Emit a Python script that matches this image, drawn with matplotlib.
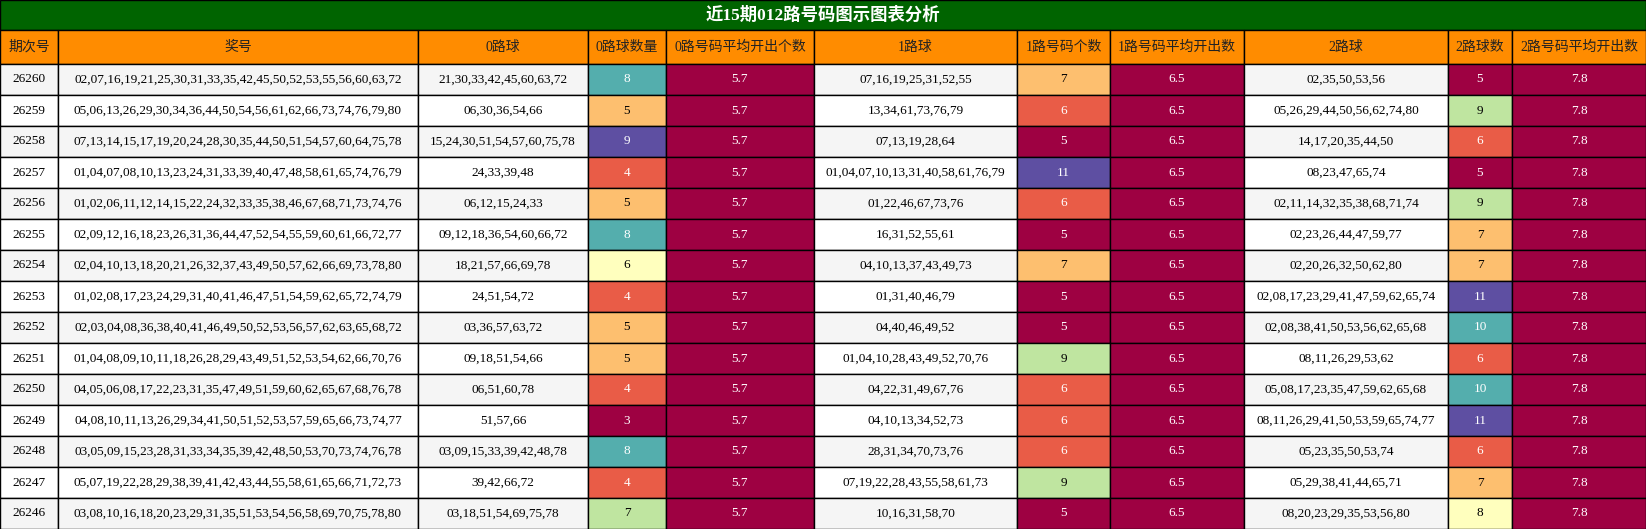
import matplotlib
matplotlib.use("Agg")
import matplotlib.pyplot as plt
from matplotlib.patches import Rectangle
from matplotlib import colormaps

title = "近15期012路号码图示图表分析"
headers = ["期次号", "奖号", "0路球", "0路球数量", "0路号码平均开出个数", "1路球", "1路号码个数",
           "1路号码平均开出数", "2路球", "2路球数", "2路号码平均开出数"]
periods = ["26260","26259","26258","26257","26256","26255","26254","26253","26252","26251","26250","26249","26248","26247","26246"]
draws = [
"02,07,16,19,21,25,30,31,33,35,42,45,50,52,53,55,56,60,63,72",
"05,06,13,26,29,30,34,36,44,50,54,56,61,62,66,73,74,76,79,80",
"07,13,14,15,17,19,20,24,28,30,35,44,50,51,54,57,60,64,75,78",
"01,04,07,08,10,13,23,24,31,33,39,40,47,48,58,61,65,74,76,79",
"01,02,06,11,12,14,15,22,24,32,33,35,38,46,67,68,71,73,74,76",
"02,09,12,16,18,23,26,31,36,44,47,52,54,55,59,60,61,66,72,77",
"02,04,10,13,18,20,21,26,32,37,43,49,50,57,62,66,69,73,78,80",
"01,02,08,17,23,24,29,31,40,41,46,47,51,54,59,62,65,72,74,79",
"02,03,04,08,36,38,40,41,46,49,50,52,53,56,57,62,63,65,68,72",
"01,04,08,09,10,11,18,26,28,29,43,49,51,52,53,54,62,66,70,76",
"04,05,06,08,17,22,23,31,35,47,49,51,59,60,62,65,67,68,76,78",
"04,08,10,11,13,26,29,34,41,50,51,52,53,57,59,65,66,73,74,77",
"03,05,09,15,23,28,31,33,34,35,39,42,48,50,53,70,73,74,76,78",
"05,07,19,22,28,29,38,39,41,42,43,44,55,58,61,65,66,71,72,73",
"03,08,10,16,18,20,23,29,31,35,51,53,54,56,58,69,70,75,78,80"]
road0 = ["21,30,33,42,45,60,63,72","06,30,36,54,66","15,24,30,51,54,57,60,75,78","24,33,39,48",
         "06,12,15,24,33","09,12,18,36,54,60,66,72","18,21,57,66,69,78","24,51,54,72","03,36,57,63,72",
         "09,18,51,54,66","06,51,60,78","51,57,66","03,09,15,33,39,42,48,78","39,42,66,72","03,18,51,54,69,75,78"]
count0 = [8,5,9,4,5,8,6,4,5,5,4,3,8,4,7]
avg0 = [5.7]*15
road1 = ["07,16,19,25,31,52,55","13,34,61,73,76,79","07,13,19,28,64","01,04,07,10,13,31,40,58,61,76,79",
         "01,22,46,67,73,76","16,31,52,55,61","04,10,13,37,43,49,73","01,31,40,46,79","04,40,46,49,52",
         "01,04,10,28,43,49,52,70,76","04,22,31,49,67,76","04,10,13,34,52,73","28,31,34,70,73,76",
         "07,19,22,28,43,55,58,61,73","10,16,31,58,70"]
count1 = [7,6,5,11,6,5,7,5,5,9,6,6,6,9,5]
avg1 = [6.5]*15
road2 = ["02,35,50,53,56","05,26,29,44,50,56,62,74,80","14,17,20,35,44,50","08,23,47,65,74",
         "02,11,14,32,35,38,68,71,74","02,23,26,44,47,59,77","02,20,26,32,50,62,80",
         "02,08,17,23,29,41,47,59,62,65,74","02,08,38,41,50,53,56,62,65,68","08,11,26,29,53,62",
         "05,08,17,23,35,47,59,62,65,68","08,11,26,29,41,50,53,59,65,74,77","05,23,35,50,53,74",
         "05,29,38,41,44,65,71","08,20,23,29,35,53,56,80"]
count2 = [5,9,6,5,9,7,7,11,10,6,10,11,6,7,8]
avg2 = [7.8]*15

plt.rcParams['font.family'] = ['Liberation Serif', 'Noto Sans CJK SC', 'DejaVu Sans']
W, H = 1646, 529
fig = plt.figure(figsize=(W/100, H/100), dpi=100)
ax = fig.add_axes([0, 0, 1, 1])
ax.set_xlim(0, W); ax.set_ylim(H, 0); ax.axis('off')

xs = [0, 58, 418, 588, 666, 814, 1017, 1110, 1244, 1448, 1512, 1646]
title_h, head_h = 30, 34
row_h = (H - title_h - head_h) / 15
cmap = colormaps['Spectral']

def cell(x0, x1, y0, y1, fc, txt, tc='black', fs=9.5, weight='normal'):
    ax.add_patch(Rectangle((x0, y0), x1-x0, y1-y0, facecolor=fc, edgecolor='black', lw=1))
    ax.text((x0+x1)/2, (y0+y1)/2, txt, ha='center', va='center', color=tc, fontsize=fs, fontweight=weight)

cell(0, W, 0, title_h, '#006400', title, 'white', 12.5, 'bold')
for i, h in enumerate(headers):
    cell(xs[i], xs[i+1], title_h, title_h+head_h, '#ff8c00', h, '#222222', 10)

def color_for(v, vals):
    lo, hi = min(vals), max(vals)
    t = 0.0 if hi == lo else (v-lo)/(hi-lo)
    c = cmap(t)
    lum = 0.299*c[0]+0.587*c[1]+0.114*c[2]
    return c, ('white' if lum < 0.6 else 'black')

cols = [periods, draws, road0, count0, avg0, road1, count1, avg1, road2, count2, avg2]
for r in range(15):
    y0 = title_h + head_h + r*row_h
    y1 = y0 + row_h
    bg = '#f5f5f5' if r % 2 == 0 else 'white'
    for ci, col in enumerate(cols):
        v = col[r]
        if ci in (3, 6, 9):
            fc, tc = color_for(v, col)
            cell(xs[ci], xs[ci+1], y0, y1, fc, str(v), tc)
        elif ci in (4, 7, 10):
            fc, tc = color_for(v, col)
            cell(xs[ci], xs[ci+1], y0, y1, fc, f"{v:.1f}", tc)
        else:
            cell(xs[ci], xs[ci+1], y0, y1, bg, v)

fig.savefig('out.png', dpi=100)
